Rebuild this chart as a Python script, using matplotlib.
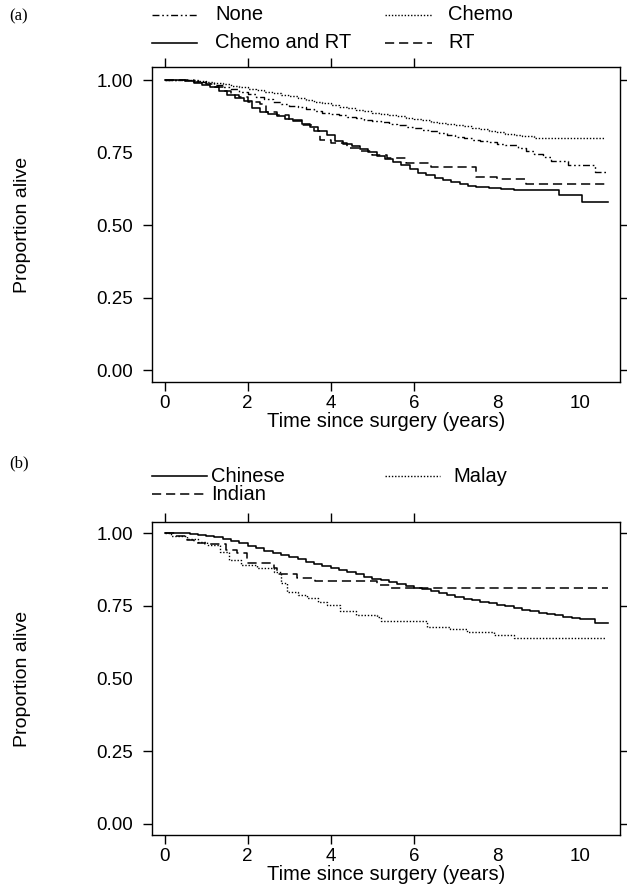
import matplotlib
matplotlib.use("Agg")
import matplotlib.pyplot as plt
from matplotlib.lines import Line2D

# ---------------- data ----------------
xticks = [0, 2, 4, 6, 8, 10]
yticks = [0.00, 0.25, 0.50, 0.75, 1.00]
ytick_labels = ["0.00", "0.25", "0.50", "0.75", "1.00"]

# Panel (a): treatment
none_t = [0, 0.6, 0.8, 1.0, 1.2, 1.4, 1.6, 1.8, 2.0, 2.2, 2.4, 2.6, 2.8, 3.0, 3.2, 3.4, 3.6, 3.8, 4.0, 4.2,
          4.4, 4.6, 4.8, 5.0, 5.2, 5.4, 5.6, 5.8, 6.0, 6.2, 6.4, 6.6, 6.8, 7.0, 7.2, 7.4, 7.6, 7.8, 8.0, 8.2,
          8.5, 8.7, 8.9, 9.1, 9.3, 9.7, 10.35, 10.65]
none_s = [1.0, 0.998, 0.995, 0.99, 0.983, 0.975, 0.968, 0.96, 0.951, 0.942, 0.934, 0.926, 0.918, 0.912, 0.906,
          0.9, 0.894, 0.888, 0.883, 0.879, 0.874, 0.869, 0.864, 0.859, 0.854, 0.849, 0.844, 0.839, 0.834, 0.829,
          0.823, 0.817, 0.811, 0.805, 0.799, 0.793, 0.789, 0.785, 0.781, 0.776, 0.765, 0.755, 0.745, 0.733,
          0.72, 0.707, 0.684, 0.684]

chemo_t = [0, 0.8, 1.0, 1.2, 1.4, 1.6, 1.8, 2.0, 2.2, 2.4, 2.6, 2.8, 3.0, 3.2, 3.4, 3.6, 3.8, 4.0, 4.2, 4.4,
           4.6, 4.8, 5.0, 5.2, 5.4, 5.6, 5.8, 6.0, 6.2, 6.4, 6.6, 6.8, 7.0, 7.2, 7.4, 7.6, 7.8, 8.0, 8.2, 8.4,
           8.6, 8.9, 10.6]
chemo_s = [1.0, 0.998, 0.995, 0.99, 0.985, 0.98, 0.975, 0.97, 0.965, 0.96, 0.955, 0.95, 0.944, 0.938, 0.932,
           0.926, 0.92, 0.914, 0.908, 0.903, 0.898, 0.893, 0.888, 0.884, 0.879, 0.875, 0.87, 0.865, 0.861, 0.857,
           0.853, 0.849, 0.845, 0.841, 0.836, 0.831, 0.826, 0.82, 0.815, 0.81, 0.806, 0.80, 0.80]

chemort_t = [0, 0.5, 0.7, 0.9, 1.1, 1.3, 1.5, 1.7, 1.9, 2.1, 2.3, 2.5, 2.7, 2.9, 3.1, 3.3, 3.5, 3.7, 3.9,
             4.1, 4.3, 4.5, 4.7, 4.9, 5.1, 5.3, 5.5, 5.7, 5.9, 6.1, 6.3, 6.5, 6.7, 6.9, 7.1, 7.3, 7.5,
             7.8, 8.1, 8.4, 9.5, 10.05, 10.66]
chemort_s = [1.0, 0.997, 0.99, 0.983, 0.975, 0.962, 0.948, 0.938, 0.928, 0.905, 0.89, 0.883, 0.875, 0.866,
             0.858, 0.848, 0.838, 0.825, 0.81, 0.79, 0.78, 0.772, 0.763, 0.752, 0.738, 0.728, 0.718, 0.706,
             0.694, 0.681, 0.673, 0.664, 0.657, 0.649, 0.642, 0.636, 0.631, 0.627, 0.624, 0.621, 0.603,
             0.578, 0.578]

rt_t = [0, 0.7, 1.0, 1.2, 1.4, 1.6, 1.8, 2.0, 2.3, 2.45, 2.7, 3.0, 3.3, 3.6, 3.75, 4.0, 4.4, 4.7, 5.0, 5.36,
        5.8, 6.4, 7.0, 7.49, 8.0, 8.69, 10.66]
rt_s = [1.0, 0.993, 0.985, 0.975, 0.963, 0.95, 0.94, 0.925, 0.918, 0.891, 0.878, 0.862, 0.845, 0.825, 0.795,
        0.782, 0.766, 0.755, 0.742, 0.73, 0.715, 0.70, 0.70, 0.667, 0.659, 0.641, 0.641]

# Panel (b): ethnicity
chinese_t = [0, 0.6, 0.8, 1.0, 1.2, 1.4, 1.6, 1.8, 2.0, 2.2, 2.4, 2.6, 2.8, 3.0, 3.2, 3.4, 3.6, 3.8, 4.0,
             4.2, 4.4, 4.6, 4.8, 5.0, 5.2, 5.4, 5.6, 5.8, 6.0, 6.2, 6.4, 6.6, 6.8, 7.0, 7.2, 7.4, 7.6, 7.8,
             8.0, 8.2, 8.4, 8.6, 8.8, 9.0, 9.2, 9.4, 9.6, 9.8, 10.0, 10.2, 10.35, 10.66]
chinese_s = [1.0, 0.998, 0.995, 0.99, 0.985, 0.979, 0.972, 0.966, 0.957, 0.948, 0.939, 0.931, 0.924, 0.917,
             0.91, 0.902, 0.895, 0.888, 0.881, 0.874, 0.866, 0.858, 0.85, 0.843, 0.837, 0.831, 0.825, 0.818,
             0.812, 0.806, 0.8, 0.794, 0.787, 0.781, 0.775, 0.769, 0.764, 0.759, 0.754, 0.748, 0.743, 0.737,
             0.731, 0.725, 0.721, 0.717, 0.713, 0.709, 0.706, 0.704, 0.69, 0.69]

indian_t = [0, 0.25, 0.54, 0.7, 0.98, 1.47, 1.75, 1.98, 2.63, 2.71, 3.19, 3.63, 5.12, 5.44, 10.66]
indian_s = [1.0, 0.99, 0.975, 0.965, 0.961, 0.942, 0.93, 0.896, 0.879, 0.859, 0.844, 0.835, 0.821, 0.81, 0.81]

malay_t = [0, 0.15, 0.54, 0.8, 1.02, 1.34, 1.55, 1.83, 2.22, 2.63, 2.79, 2.95, 3.2, 3.43, 3.7, 3.91, 4.23,
           4.6, 5.12, 5.2, 6.32, 6.88, 7.28, 7.92, 8.41, 10.6]
malay_s = [1.0, 0.99, 0.978, 0.97, 0.959, 0.936, 0.907, 0.89, 0.879, 0.867, 0.827, 0.798, 0.787, 0.776, 0.764,
           0.753, 0.732, 0.72, 0.712, 0.698, 0.678, 0.67, 0.661, 0.65, 0.638, 0.638]

# ---------------- styles ----------------
SOLID = dict(color="black", lw=1.15, linestyle="-")
DOTTED = dict(color="black", lw=1.0, linestyle=(0, (1.0, 1.3)))
DASHED = dict(color="black", lw=1.1, linestyle=(0, (6.0, 3.2)))
DASHDOT = dict(color="black", lw=1.0, linestyle=(0, (5, 2, 1.2, 2, 1.2, 2)))

plt.rcParams["font.family"] = ["Liberation Sans", "DejaVu Sans"]

W, H = 627, 886
fig = plt.figure(figsize=(W / 100, H / 100), dpi=100)


def fx(x):
    return x / W


def fy(y):
    return 1 - y / H


def make_axes(top, bottom, ylim):
    left, right = 151.7, 620.0
    ax = fig.add_axes([fx(left), fy(bottom), (right - left) / W, (bottom - top) / H])
    ax.set_xlim(-0.31, 10.96)
    ax.set_ylim(*ylim)
    for sp in ax.spines.values():
        sp.set_linewidth(1.0)
    ax.set_xticks(xticks)
    ax.set_xticklabels([str(v) for v in xticks])
    ax.set_yticks(yticks)
    ax.set_yticklabels(ytick_labels)
    ax.tick_params(axis="both", direction="out", length=6.5, width=1.0,
                   labelsize=13.5, top=False, right=False)
    ax.tick_params(axis="x", pad=3)
    ax.tick_params(axis="y", pad=7)
    ax.set_xlabel("Time since surgery (years)", fontsize=14.5, labelpad=0)
    ax.set_ylabel("Proportion alive", fontsize=14, labelpad=47)
    return ax


def sec_ticks(ax, top_x, right_y, bottom_x, left_y):
    sx = ax.secondary_xaxis("top")
    sx.set_xticks(top_x)
    sx.set_xticklabels([])
    sx.tick_params(direction="out", length=6.5, width=1.0)
    sx.spines["top"].set_visible(False)
    sy = ax.secondary_yaxis("right")
    sy.set_yticks(right_y)
    sy.set_yticklabels([])
    sy.tick_params(direction="out", length=5.5, width=1.0)
    sy.spines["right"].set_visible(False)
    # hide tick marks that are absent in the reference
    for tick, v in zip(ax.xaxis.get_major_ticks(), xticks):
        if v not in bottom_x:
            tick.tick1line.set_visible(False)
    for tick, v in zip(ax.yaxis.get_major_ticks(), yticks):
        if v not in left_y:
            tick.tick1line.set_visible(False)


# ---------------- panel (a) ----------------
axa = make_axes(67, 382, (-0.041, 1.045))
axa.plot(none_t, none_s, drawstyle="steps-post", **DASHDOT)
axa.plot(chemo_t, chemo_s, drawstyle="steps-post", **DOTTED)
axa.plot(chemort_t, chemort_s, drawstyle="steps-post", **SOLID)
axa.plot(rt_t, rt_s, drawstyle="steps-post", **DASHED)
sec_ticks(axa, [0, 2, 4, 6], [0.0, 0.25, 0.5, 1.0], [0, 2, 4, 6], [0.0, 0.25, 0.5, 1.0])

# ---------------- panel (b) ----------------
axb = make_axes(522, 835, (-0.038, 1.038))
axb.plot(chinese_t, chinese_s, drawstyle="steps-post", **SOLID)
axb.plot(indian_t, indian_s, drawstyle="steps-post", **DASHED)
axb.plot(malay_t, malay_s, drawstyle="steps-post", **DOTTED)
sec_ticks(axb, [0, 2, 4, 6], [0.0, 0.25, 0.75, 1.0], [0, 2, 4, 6], [0.0, 0.25, 0.75, 1.0])


# ---------------- legends (drawn in figure pixels) ----------------
def legend_item(x0, x1, y, style, label, tx):
    fig.add_artist(Line2D([fx(x0), fx(x1)], [fy(y), fy(y)], transform=fig.transFigure, **style))
    fig.text(fx(tx), fy(y), label, fontsize=14.5, va="center", ha="left")


legend_item(152, 197, 15, DASHDOT, "None", 215)
legend_item(385, 432, 15, DOTTED, "Chemo", 448)
legend_item(152, 197, 43, SOLID, "Chemo and RT", 215)
legend_item(385, 432, 43, DASHED, "RT", 448)

legend_item(152, 207, 476, SOLID, "Chinese", 211)
legend_item(385, 440, 476, DOTTED, "Malay", 453)
legend_item(152, 207, 494, DASHED, "Indian", 211)

fig.text(fx(9), fy(16), "(a)", fontsize=12, family=["Liberation Serif", "DejaVu Serif"], va="center")
fig.text(fx(9), fy(463), "(b)", fontsize=12, family=["Liberation Serif", "DejaVu Serif"], va="center")

fig.savefig("out.png", dpi=100)
